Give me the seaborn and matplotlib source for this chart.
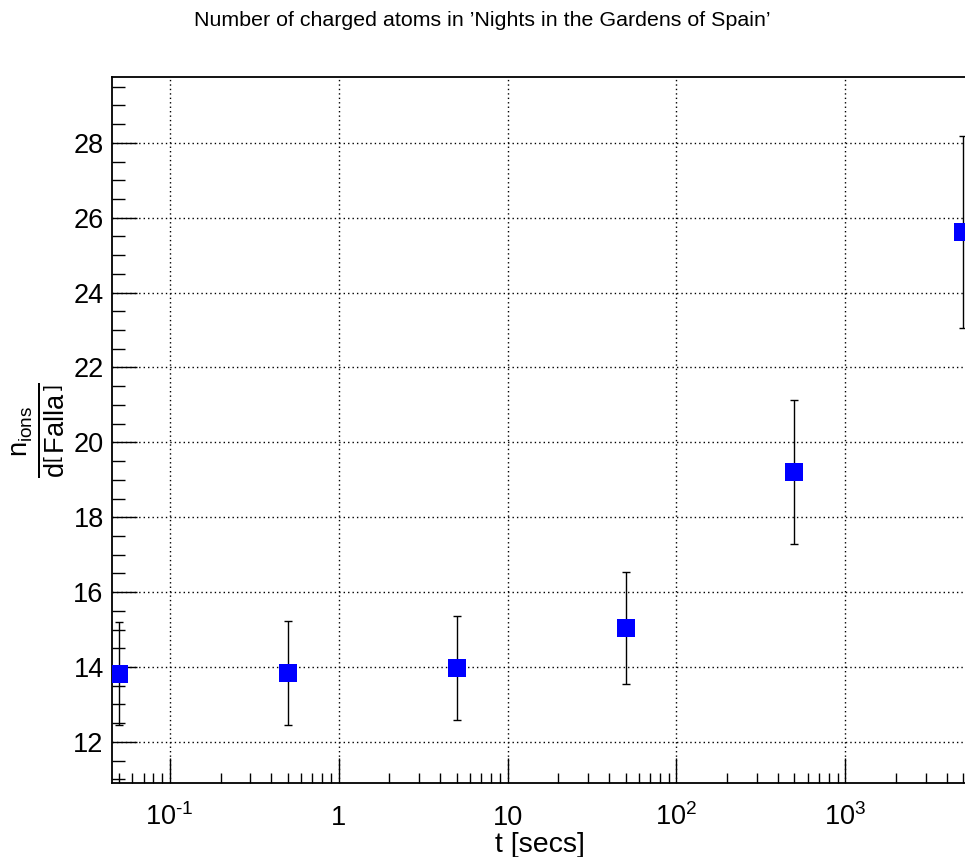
import numpy as np
import pandas as pd
import matplotlib
matplotlib.use("Agg")
import matplotlib.pyplot as plt
from matplotlib.ticker import LogLocator, MultipleLocator, FixedLocator, FixedFormatter, NullFormatter
import seaborn as sns

# === Datos ===
t_secs = [0.05, 0.5, 5, 50, 500, 5000]
n_ions = [13.82, 13.84, 13.98, 15.04, 19.21, 25.62]
n_err = [1.38, 1.38, 1.39, 1.50, 1.92, 2.56]
xtick_vals = [0.1, 1, 10, 100, 1000]
xtick_labels = [r"10$^{\text{-1}}$", "1", "10", r"10$^{2}$", r"10$^{3}$"]
TITULO = "Number of charged atoms in \u2019Nights in the Gardens of Spain\u2019"

df = pd.DataFrame({"t": t_secs, "n": n_ions, "err": n_err})

sns.set_style("ticks")
plt.rcParams["font.family"] = ["Liberation Sans", "DejaVu Sans"]
plt.rcParams["mathtext.fontset"] = "custom"
plt.rcParams["mathtext.rm"] = "Liberation Sans"
plt.rcParams["mathtext.it"] = "Liberation Sans"
plt.rcParams["mathtext.bf"] = "Liberation Sans:bold"
plt.rcParams["axes.unicode_minus"] = False
plt.rcParams["text.color"] = "black"
plt.rcParams["axes.labelcolor"] = "black"

W, H = 965, 857
fig = plt.figure(figsize=(W / 100, H / 100), dpi=100)
ax = fig.add_axes([112 / W, (H - 783) / H, (966 - 112) / W, (783 - 77) / H])
ax.set_xscale("log")

ax.errorbar(df["t"], df["n"], yerr=df["err"], fmt="none", ecolor="black",
            elinewidth=1.0, capsize=3, capthick=1.0, zorder=3)
sns.scatterplot(data=df, x="t", y="n", marker="s", s=170, color="#0000ff",
                edgecolor="#0000ff", linewidth=0, ax=ax, zorder=4)

ax.set_xlim(0.04552, 5184)
ax.set_ylim(10.9, 29.76)

ax.xaxis.set_major_locator(FixedLocator(xtick_vals))
ax.xaxis.set_major_formatter(FixedFormatter(xtick_labels))
ax.xaxis.set_minor_locator(LogLocator(base=10, subs=np.arange(2, 10), numticks=20))
ax.xaxis.set_minor_formatter(NullFormatter())
ax.yaxis.set_major_locator(MultipleLocator(2))
ax.yaxis.set_minor_locator(MultipleLocator(0.5))

ax.tick_params(axis="both", which="both", direction="in", bottom=True, left=True,
               top=False, right=False, color="black", width=1)
ax.tick_params(axis="both", which="major", length=18, labelsize=19.5, labelcolor="black")
ax.tick_params(axis="y", which="minor", length=9)
ax.tick_params(axis="x", which="minor", length=7)
ax.tick_params(axis="x", which="major", pad=30)
ax.tick_params(axis="y", which="major", pad=6)
for lab in ax.get_xticklabels():
    lab.set_verticalalignment("baseline")

ax.grid(True, which="major", color="black", linestyle=(0, (1, 2.2)), linewidth=1.0)
ax.set_axisbelow(True)

for side in ["left", "bottom", "top"]:
    ax.spines[side].set_color("black")
    ax.spines[side].set_linewidth(1.3)
ax.spines["right"].set_visible(False)

ax.set_xlabel("t [secs]", fontsize=20.5, color="black")
ax.xaxis.set_label_coords((540 - 112) / (966 - 112), -0.07)
ax.set_ylabel(r"$\frac{n_{\mathrm{ions}}}{d\left[\,\mathrm{Falla}\,\right]}$",
              fontsize=28, color="black")
ax.yaxis.set_label_coords(-0.053, 0.5)

fig.text(0.5, 1 - 20 / H, TITULO, ha="center", va="center", fontsize=15.4, color="black")

fig.savefig("out.png", dpi=100)
plt.close(fig)
